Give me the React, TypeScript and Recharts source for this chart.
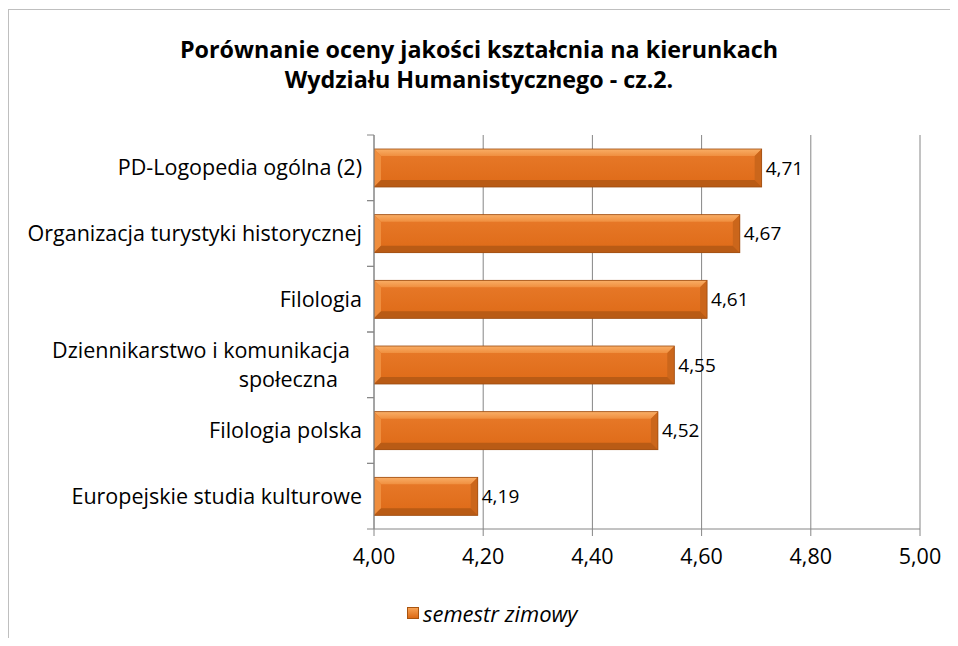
import React from "react";
import { BarChart, Bar, XAxis, YAxis, CartesianGrid, LabelList } from "recharts";

const categories = [
  "PD-Logopedia ogólna (2)",
  "Organizacja turystyki historycznej",
  "Filologia",
  "Dziennikarstwo i komunikacja\nspołeczna",
  "Filologia polska",
  "Europejskie studia kulturowe",
];
const values = [4.71, 4.67, 4.61, 4.55, 4.52, 4.19];
const xTicks = [4.0, 4.2, 4.4, 4.6, 4.8, 5.0];
const seriesName = "semestr zimowy";
const titleLines = [
  "Porównanie oceny jakości kształcnia na kierunkach",
  "Wydziału Humanistycznego - cz.2.",
];

const data = categories.map((name, i) => ({ name, value: values[i] }));

const FONT = "'Open Sans', 'Noto Sans', sans-serif";
const GRID = "#868686";
const BORDER = "#BFBFBF";
const fmt = (v: number) => Number(v).toFixed(2).replace(".", ",");

const BevelBar = (props: any) => {
  const { x, y, width, height } = props;
  if (width <= 0 || height <= 0) return null;
  const b = Math.min(7, width / 2, height / 2);
  const x2 = x + width;
  const y2 = y + height;
  return (
    <g>
      <rect x={x} y={y} width={width} height={height} fill="url(#barCenter)" />
      <polygon points={`${x},${y} ${x2},${y} ${x2 - b},${y + b} ${x + b},${y + b}`} fill="url(#barTop)" />
      <polygon points={`${x},${y} ${x + b},${y + b} ${x + b},${y2 - b} ${x},${y2}`} fill="#EF8E3E" />
      <polygon points={`${x2},${y} ${x2},${y2} ${x2 - b},${y2 - b} ${x2 - b},${y + b}`} fill="#CB661B" />
      <polygon points={`${x},${y2} ${x + b},${y2 - b} ${x2 - b},${y2 - b} ${x2},${y2}`} fill="#B95B15" />
      <rect x={x} y={y} width={width} height={height} fill="none" stroke="#9C4B10" strokeWidth={0.8} />
    </g>
  );
};

const CategoryTick = (props: any) => {
  const { x, y, payload } = props;
  const axisX = x + 12;
  const half = payload && payload.offset ? payload.offset : 32.8;
  const lines = String(payload.value).split("\n");
  const lh = 29;
  const startY = y - ((lines.length - 1) * lh) / 2;
  return (
    <g>
      <line x1={axisX - 7} x2={axisX} y1={y - half} y2={y - half} stroke={GRID} strokeWidth={1} />
      <line x1={axisX - 7} x2={axisX} y1={y + half} y2={y + half} stroke={GRID} strokeWidth={1} />
      {lines.map((ln, i) => (
        <text
          key={i}
          x={x - (lines.length > 1 ? 12 * (i + 1) : 0)}
          y={startY + i * lh}
          dy="0.35em"
          textAnchor="end"
          fontFamily={FONT}
          fontSize={21.5}
          fill="#000"
        >
          {ln}
        </text>
      ))}
    </g>
  );
};

export default function App() {
  return (
    <div style={{ position: "relative", width: 942, height: 630, fontFamily: FONT }}>
      <style>{`html, body { overflow: hidden; }`}</style>
      <div style={{ position: "absolute", left: 0, top: 1, width: 950, height: 1, background: BORDER }} />
      <div style={{ position: "absolute", left: 0, top: 1, width: 1, height: 637, background: BORDER }} />
      <div
        style={{
          position: "absolute",
          left: 0,
          top: 26,
          width: 942,
          textAlign: "center",
          fontWeight: 700,
          fontSize: 23.3,
          lineHeight: "30px",
          color: "#000",
        }}
      >
        {titleLines.map((t, i) => (
          <div key={i}>{t}</div>
        ))}
      </div>
      <div style={{ position: "absolute", left: 0, top: 0, height: 630, overflow: "hidden" }}>
        <BarChart
          width={942}
          height={630}
          data={data}
          layout="vertical"
          margin={{ top: 127, right: 30, bottom: 69, left: 0 }}
          barSize={38}
        >
          <defs>
            <linearGradient id="barCenter" x1="0" y1="0" x2="0" y2="1">
              <stop offset="0%" stopColor="#E87A2A" />
              <stop offset="100%" stopColor="#DE6A17" />
            </linearGradient>
            <linearGradient id="barTop" x1="0" y1="0" x2="0" y2="1">
              <stop offset="0%" stopColor="#F9AE66" />
              <stop offset="100%" stopColor="#F08F3F" />
            </linearGradient>
          </defs>
          <CartesianGrid horizontal={false} vertical={true} stroke={GRID} strokeWidth={1} />
          <XAxis
            type="number"
            domain={[4, 5]}
            ticks={xTicks}
            tickFormatter={fmt}
            allowDataOverflow
            height={40}
            tickSize={7}
            tickMargin={13}
            stroke={GRID}
            tick={{ fill: "#000", fontSize: 21.5, fontFamily: FONT }}
          />
          <YAxis
            type="category"
            dataKey="name"
            width={366}
            tickSize={7}
            tickMargin={5}
            tickLine={false}
            stroke={GRID}
            tick={<CategoryTick />}
            interval={0}
          />
          <Bar dataKey="value" name={seriesName} shape={<BevelBar />} isAnimationActive={false}>
            <LabelList
              dataKey="value"
              position="right"
              offset={4}
              formatter={(v: any) => fmt(v)}
              style={{ fill: "#000", fontSize: 19, fontFamily: FONT }}
            />
          </Bar>
        </BarChart>
      </div>
      <div
        style={{
          position: "absolute",
          left: 399,
          top: 592,
          display: "flex",
          alignItems: "center",
          height: 26,
        }}
      >
        <span
          style={{
            display: "inline-block",
            width: 12,
            height: 12,
            background: "linear-gradient(#F7A254, #DC6914)",
            border: "1px solid #A9540F",
            boxSizing: "border-box",
            marginRight: 4,
          }}
        />
        <span style={{ fontStyle: "italic", fontSize: 22, color: "#000" }}>{seriesName}</span>
      </div>
    </div>
  );
}
